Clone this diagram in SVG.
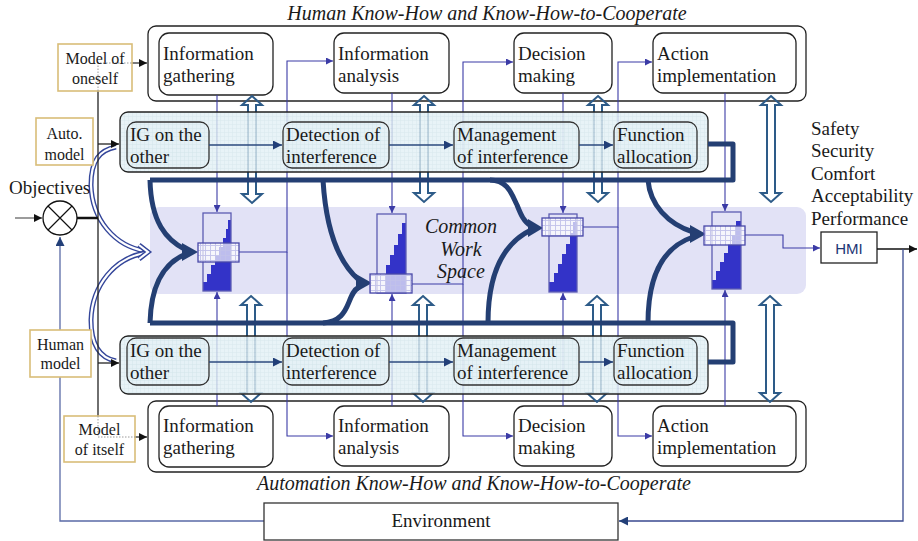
<svg xmlns="http://www.w3.org/2000/svg" width="918" height="541" viewBox="0 0 918 541">
<style>
.n{font-family:"Liberation Serif","Times New Roman",serif;font-size:19px;fill:#1a1a1a}
.ti{font-family:"Liberation Serif","Times New Roman",serif;font-size:20px;font-style:italic;fill:#1a1a1a}
.s{font-family:"Liberation Serif","Times New Roman",serif;font-size:16px;fill:#1a1a1a;text-anchor:middle}
.box{fill:#fff;stroke:#222;stroke-width:1.3}
.ob{fill:none;stroke:#222;stroke-width:1.3}
.cb{fill:url(#grid);fill-opacity:0.82;stroke:#222;stroke-width:1.3}
.cn{fill:url(#grid);fill-opacity:0.6;stroke:#333;stroke-width:1.3}
.gold{fill:#fff;stroke:#d9bd78;stroke-width:1.6}
.thin{fill:none;stroke:#3b3ba6;stroke-width:1.1}
.coop{fill:none;stroke:#2c4a7e;stroke-width:1.5}
.thick{fill:none;stroke:#243f73;stroke-width:5;stroke-linejoin:round}
.hol{fill:none;stroke:#2d5b88;stroke-width:2;stroke-linejoin:miter}
.dbo{fill:none;stroke:#34469a;stroke-width:5}
.dbi{fill:none;stroke:#fff;stroke-width:2.2}
.vr{fill:none;stroke:#5c5cb2;stroke-width:1.3}
.st{fill:#3333c8}
.hb{fill:#fff;fill-opacity:0.68}
.hg{fill:url(#cgrid);stroke:#4848a8;stroke-width:1.3}
.dot{fill:none;stroke:#9a9a9a;stroke-width:1;stroke-dasharray:1.5 1.5}
</style>
<defs>
<pattern id="grid" width="4" height="4" patternUnits="userSpaceOnUse"><rect width="4" height="4" fill="#e3f0f5"/><path d="M0 0.3H4M0.3 0V4" stroke="#cfe2ea" stroke-width="0.6"/></pattern>
<pattern id="cgrid" width="5" height="5" patternUnits="userSpaceOnUse"><path d="M0 0.5H5M0.5 0V5" stroke="#c2c2ea" stroke-width="0.9"/></pattern>
<marker id="ab" viewBox="0 0 10 10" refX="10" refY="5" markerWidth="8" markerHeight="7" markerUnits="userSpaceOnUse" orient="auto"><path d="M0,0L10,5L0,10Z" fill="#3b3ba6"/></marker>
<marker id="an" viewBox="0 0 10 10" refX="10" refY="5" markerWidth="10" markerHeight="9" markerUnits="userSpaceOnUse" orient="auto"><path d="M0,0L10,5L0,10Z" fill="#223f78"/></marker>
<marker id="ak" viewBox="0 0 10 10" refX="10" refY="5" markerWidth="10" markerHeight="8" markerUnits="userSpaceOnUse" orient="auto"><path d="M0,0L10,5L0,10Z" fill="#111"/></marker>
</defs>
<rect width="918" height="541" fill="#fff"/>

<text class="ti" x="487" y="20" text-anchor="middle">Human Know-How and Know-How-to-Cooperate</text>
<text class="ti" x="474" y="490" text-anchor="middle">Automation Know-How and Know-How-to-Cooperate</text>

<g id="human-knowhow"><rect class="ob" x="148" y="26" width="658" height="75" rx="8"/></g>
<g id="h-info-gathering"><rect class="box" x="159" y="33" width="114" height="62" rx="10"/><text class="n" x="163" y="60">Information</text><text class="n" x="163" y="82">gathering</text></g>
<g id="h-info-analysis"><rect class="box" x="334" y="33" width="115" height="60" rx="10"/><text class="n" x="338" y="60">Information</text><text class="n" x="338" y="82">analysis</text></g>
<g id="h-decision"><rect class="box" x="514" y="33" width="98" height="60" rx="10"/><text class="n" x="518" y="60">Decision</text><text class="n" x="518" y="82">making</text></g>
<g id="h-action"><rect class="box" x="653" y="33" width="143" height="60" rx="10"/><text class="n" x="657" y="60">Action</text><text class="n" x="657" y="82">implementation</text></g>

<g id="auto-knowhow"><rect class="ob" x="148" y="401" width="658" height="71" rx="8"/></g>
<g id="a-info-gathering"><rect class="box" x="159" y="406" width="114" height="61" rx="10"/><text class="n" x="163" y="432">Information</text><text class="n" x="163" y="454">gathering</text></g>
<g id="a-info-analysis"><rect class="box" x="334" y="406" width="115" height="60" rx="10"/><text class="n" x="338" y="432">Information</text><text class="n" x="338" y="454">analysis</text></g>
<g id="a-decision"><rect class="box" x="514" y="406" width="98" height="60" rx="10"/><text class="n" x="518" y="432">Decision</text><text class="n" x="518" y="454">making</text></g>
<g id="a-action"><rect class="box" x="653" y="406" width="143" height="60" rx="10"/><text class="n" x="657" y="432">Action</text><text class="n" x="657" y="454">implementation</text></g>

<g id="common-work-space"><rect x="150" y="207" width="656" height="87" rx="9" fill="#e2e2f6"/></g>

<g id="connectors">
<path class="thin" d="M217,95V212" marker-end="url(#ab)"/>
<path class="thin" d="M239,252H287V61H333" marker-end="url(#ab)"/>
<path class="thin" d="M287,252V436H333" marker-end="url(#ab)"/>
<path class="thin" d="M392,93V213" marker-end="url(#ab)"/>
<path class="thin" d="M412,284H463V62H513" marker-end="url(#ab)"/>
<path class="thin" d="M463,284V436H513" marker-end="url(#ab)"/>
<path class="thin" d="M563,93V213" marker-end="url(#ab)"/>
<path class="thin" d="M583,227H618V62H652" marker-end="url(#ab)"/>
<path class="thin" d="M618,227V436H652" marker-end="url(#ab)"/>
<path class="thin" d="M725,93V211" marker-end="url(#ab)"/>
<path class="thin" d="M745,235H783V248H820" marker-end="url(#ab)"/>
<path class="thin" d="M217,406V292" marker-end="url(#ab)"/>
<path class="thin" d="M392,406V294" marker-end="url(#ab)"/>
<path class="thin" d="M563,406V293" marker-end="url(#ab)"/>
<path class="thin" d="M725,406V290" marker-end="url(#ab)"/>
<polygon class="hol" points="252,96 262,105 256,105 256,194 262,194 252,203 242,194 248,194 248,105 242,105"/>
<polygon class="hol" points="424,96 434,105 428,105 428,193 434,193 424,202 414,193 420,193 420,105 414,105"/>
<polygon class="hol" points="598,96 608,105 602,105 602,193 608,193 598,202 588,193 594,193 594,105 588,105"/>
<polygon class="hol" points="771,96 781,105 775,105 775,193 781,193 771,202 761,193 767,193 767,105 761,105"/>
<polygon class="hol" points="251,296 261,305 255,305 255,393 261,393 251,402 241,393 247,393 247,305 241,305"/>
<polygon class="hol" points="423,296 433,305 427,305 427,393 433,393 423,402 413,393 419,393 419,305 413,305"/>
<polygon class="hol" points="597,296 607,305 601,305 601,393 607,393 597,402 587,393 593,393 593,305 587,305"/>
<polygon class="hol" points="770,296 780,305 774,305 774,393 780,393 770,402 760,393 766,393 766,305 760,305"/>
</g>

<g id="human-cooperation"><rect class="cb" x="120" y="112" width="588" height="60" rx="8"/></g>
<g id="h-ig-other"><rect class="cn" x="127" y="122" width="82" height="46" rx="9"/><text class="n" x="130" y="141">IG on the</text><text class="n" x="130" y="163">other</text></g>
<g id="h-detection"><rect class="cn" x="283" y="122" width="106" height="46" rx="9"/><text class="n" x="286" y="141">Detection of</text><text class="n" x="286" y="163">interference</text></g>
<g id="h-management"><rect class="cn" x="454" y="122" width="125" height="46" rx="9"/><text class="n" x="457" y="141">Management</text><text class="n" x="457" y="163">of interference</text></g>
<g id="h-function"><rect class="cn" x="614" y="122" width="83" height="46" rx="9"/><text class="n" x="617" y="141">Function</text><text class="n" x="617" y="163">allocation</text></g>

<g id="auto-cooperation"><rect class="cb" x="120" y="336" width="588" height="58" rx="8"/></g>
<g id="a-ig-other"><rect class="cn" x="127" y="338" width="82" height="47" rx="9"/><text class="n" x="130" y="357">IG on the</text><text class="n" x="130" y="379">other</text></g>
<g id="a-detection"><rect class="cn" x="283" y="338" width="106" height="47" rx="9"/><text class="n" x="286" y="357">Detection of</text><text class="n" x="286" y="379">interference</text></g>
<g id="a-management"><rect class="cn" x="454" y="338" width="125" height="47" rx="9"/><text class="n" x="457" y="357">Management</text><text class="n" x="457" y="379">of interference</text></g>
<g id="a-function"><rect class="cn" x="614" y="338" width="83" height="47" rx="9"/><text class="n" x="617" y="357">Function</text><text class="n" x="617" y="379">allocation</text></g>

<g id="coop-connectors">
<path class="coop" d="M209,145H282" marker-end="url(#an)"/>
<path class="coop" d="M389,145H453" marker-end="url(#an)"/>
<path class="coop" d="M579,145H613" marker-end="url(#an)"/>
<path class="coop" d="M209,362H282" marker-end="url(#an)"/>
<path class="coop" d="M389,362H453" marker-end="url(#an)"/>
<path class="coop" d="M579,362H613" marker-end="url(#an)"/>
</g>

<g id="allocation-flows">
<path class="thick" d="M708,144H733V180H150"/>
<path class="thick" d="M708,362H733V323H150"/>
<path class="thick" d="M150,180C151,222 166,240 186,250"/>
<path class="thick" d="M150,323C151,282 166,262 186,254"/>
<path class="thick" d="M323,180C326,230 338,262 359,280"/>
<path class="thick" d="M323,323C340,322 345,312 349,302C352,294 354,290 359,287"/>
<path class="thick" d="M490,180C508,180 512,195 517,205C521,215 524,222 531,226"/>
<path class="thick" d="M488,323C488,280 500,245 531,230"/>
<path class="thick" d="M648,180C650,205 668,224 693,232"/>
<path class="thick" d="M648,323C648,280 660,248 693,237"/>
<polygon points="182,243 198,252 182,261" fill="#243f73"/>
<polygon points="356,274 372,283 356,292" fill="#243f73"/>
<polygon points="528,219 543,228 528,237" fill="#243f73"/>
<polygon points="690,225 706,234 690,243" fill="#243f73"/>
</g>

<g id="chart-1">
<path class="st" d="M203,291V282H207V274H211V265H215V256H219V247H223V238H226V229H228V220H231V291Z"/>
<rect class="vr" x="203" y="213" width="28" height="78"/>
<rect class="hb" x="198" y="243" width="41" height="19"/><rect class="hg" x="198" y="243" width="41" height="19"/>
</g>
<g id="chart-2">
<path class="st" d="M386,293V265H390V255H394V245H398V234H402V223H406V293Z"/>
<rect class="vr" x="377" y="214" width="29" height="79"/>
<rect class="hb" x="370" y="274" width="42" height="19"/><rect class="hg" x="370" y="274" width="42" height="19"/>
</g>
<g id="chart-3">
<path class="st" d="M549,292V282H554V273H558V264H562V254H566V244H570V233H573V222H577V292Z"/>
<rect class="vr" x="549" y="214" width="28" height="78"/>
<rect class="hb" x="542" y="218" width="41" height="18"/><rect class="hg" x="542" y="218" width="41" height="18"/>
</g>
<g id="chart-4">
<path class="st" d="M712,289V280H716V271H720V262H724V253H728V244H732V235H736V221H741V289Z"/>
<rect class="vr" x="712" y="212" width="29" height="77"/>
<rect class="hb" x="704" y="226" width="41" height="19"/><rect class="hg" x="704" y="226" width="41" height="19"/>
</g>

<g id="cws-label">
<text class="ti" x="461" y="233" text-anchor="middle">Common</text>
<text class="ti" x="461" y="256" text-anchor="middle">Work</text>
<text class="ti" x="461" y="278" text-anchor="middle">Space</text>
</g>

<g id="left-connectors">
<path class="dbo" d="M145,251C115,246 92,220 91,185C91,160 100,150 116,147"/>
<path class="dbi" d="M145,251C115,246 92,220 91,185C91,160 100,150 116,147"/>
<path class="dbo" d="M145,253C115,258 92,285 91,320C91,345 100,358 116,361"/>
<path class="dbi" d="M145,253C115,258 92,285 91,320C91,345 100,358 116,361"/>
<path class="dbo" d="M139,245L148,252L139,259"/>
<path class="dbi" d="M139,245L148,252L139,259"/>
<path d="M98,91V416" fill="none" stroke="#222" stroke-width="1.3"/>
<path d="M98,144H119" fill="none" stroke="#222" stroke-width="1.3" marker-end="url(#ak)"/>
<path d="M98,363H119" fill="none" stroke="#222" stroke-width="1.3" marker-end="url(#ak)"/>
<path d="M77,218H98" fill="none" stroke="#111" stroke-width="2.5"/>
<path d="M15,218H42" fill="none" stroke="#666" stroke-width="1.3" marker-end="url(#ak)"/>
<path d="M264,521H60V237" fill="none" stroke="#5a6aa6" stroke-width="1.3" marker-end="url(#an)"/>
<path d="M132,63H147" fill="none" stroke="#222" stroke-width="1.2" marker-end="url(#ak)"/>
<path d="M135,437H147" fill="none" stroke="#222" stroke-width="1.2" marker-end="url(#ak)"/>
</g>

<g id="objectives">
<text class="n" x="9" y="194">Objectives</text>
<circle cx="60" cy="218" r="17" fill="#fff" stroke="#111" stroke-width="1.3"/>
<path d="M48,206L72,230M72,206L48,230" stroke="#111" stroke-width="1.2"/>
</g>
<g id="model-oneself"><rect class="gold" x="58" y="44" width="74" height="47"/><path class="dot" d="M98,91V63H132"/><text class="s" x="95" y="64">Model of</text><text class="s" x="95" y="84">oneself</text></g>
<g id="auto-model"><rect class="gold" x="36" y="118" width="57" height="47"/><text class="s" x="64.5" y="139">Auto.</text><text class="s" x="64.5" y="160">model</text></g>
<g id="human-model"><rect class="gold" x="30" y="330" width="61" height="47"/><text class="s" x="60.5" y="350">Human</text><text class="s" x="60.5" y="369">model</text></g>
<g id="model-itself"><rect class="gold" x="64" y="416" width="71" height="46"/><path class="dot" d="M98,416V437H135"/><text class="s" x="99.5" y="435">Model</text><text class="s" x="99.5" y="455">of itself</text></g>

<g id="criteria">
<text class="n" x="811" y="135">Safety</text>
<text class="n" x="811" y="157">Security</text>
<text class="n" x="811" y="180">Comfort</text>
<text class="n" x="811" y="202">Acceptability</text>
<text class="n" x="811" y="225">Performance</text>
</g>
<g id="hmi"><rect x="821" y="232" width="56" height="31" fill="#fff" stroke="#222" stroke-width="1.3"/><text x="849" y="254" text-anchor="middle" font-family="Liberation Sans, Arial, sans-serif" font-size="15" fill="#1b3575">HMI</text></g>
<g id="right-connectors">
<path d="M877,249H917" fill="none" stroke="#111" stroke-width="1.3" marker-end="url(#ak)"/>
<path d="M903,249V521H619" fill="none" stroke="#3a4a90" stroke-width="1.3" marker-end="url(#an)"/>
</g>
<g id="environment"><rect x="264" y="503" width="354" height="37" fill="#fff" stroke="#333" stroke-width="1.3"/><text class="n" x="441" y="527" text-anchor="middle">Environment</text></g>
</svg>
